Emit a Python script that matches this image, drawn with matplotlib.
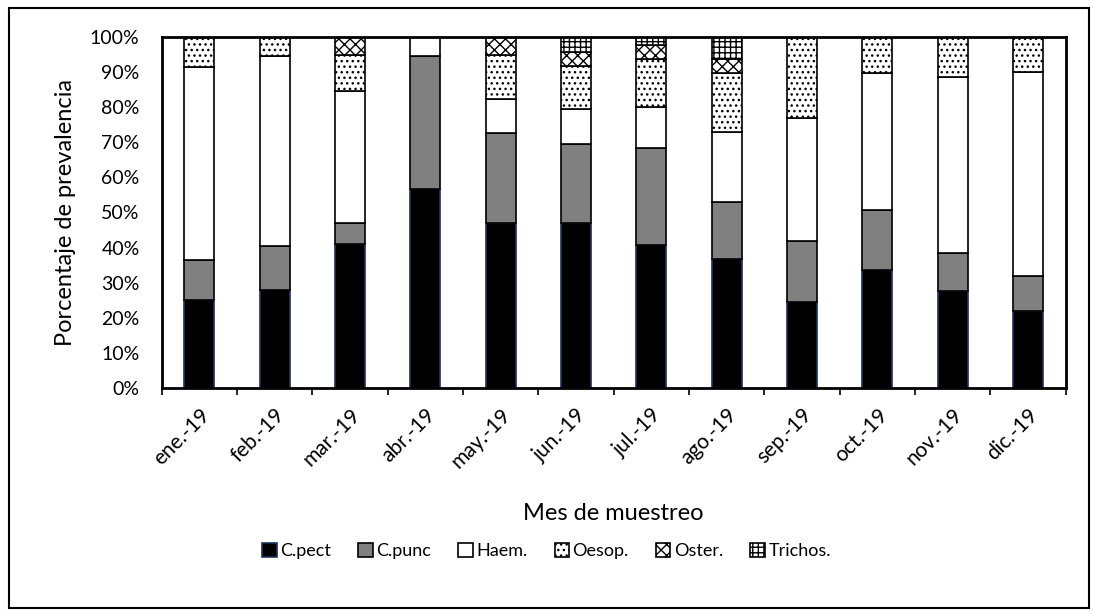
import matplotlib.pyplot as plt
import matplotlib.patches as mpatches
import numpy as np

plt.rcParams['font.family'] = ['Lato', 'DejaVu Sans']
plt.rcParams['hatch.linewidth'] = 1.0

meses = ['ene.-19', 'feb.-19', 'mar.-19', 'abr.-19', 'may.-19', 'jun.-19',
         'jul.-19', 'ago.-19', 'sep.-19', 'oct.-19', 'nov.-19', 'dic.-19']

# porcentajes por grupo
c_pect = [25.0, 27.9, 41.0, 56.7, 46.9, 46.9, 40.7, 36.7, 24.4, 33.6, 27.7, 21.9]
c_punc = [11.6, 12.6, 5.9, 38.0, 25.7, 22.5, 27.6, 16.4, 17.5, 17.1, 10.9, 10.0]
haem = [54.9, 54.1, 37.7, 5.3, 9.7, 10.0, 11.8, 19.9, 35.1, 38.9, 49.9, 58.2]
oesop = [8.5, 5.4, 10.3, 0.0, 12.6, 12.3, 13.5, 16.6, 23.0, 10.4, 11.5, 9.9]
oster = [0.0, 0.0, 5.1, 0.0, 5.1, 3.9, 4.1, 4.0, 0.0, 0.0, 0.0, 0.0]
trichos = [0.0, 0.0, 0.0, 0.0, 0.0, 4.4, 2.3, 6.4, 0.0, 0.0, 0.0, 0.0]

series = [('C.pect', c_pect, 'black', None),
          ('C.punc', c_punc, '#808080', None),
          ('Haem.', haem, 'white', None),
          ('Oesop.', oesop, 'white', '...'),
          ('Oster.', oster, 'white', 'xxx'),
          ('Trichos.', trichos, 'white', '+++')]

fig = plt.figure(figsize=(10.93, 6.15), dpi=100)
ax = fig.add_axes([0.148, 0.369, 0.827, 0.571])

x = np.arange(len(meses))
bottom = np.zeros(len(meses))
handles = []
for name, vals, color, hatch in series:
    vals = np.array(vals) / 100
    bars = ax.bar(x, vals, width=0.4, bottom=bottom, color=color,
                  edgecolor='black', linewidth=1.2, hatch=hatch, label=name)
    if name == 'C.pect':
        for b in bars:
            b.set_edgecolor('#1f2f5f')
    bottom += vals
    handles.append(bars)

ax.set_xlim(-0.5, len(meses) - 0.5)
ax.set_ylim(0, 1.0)
ax.set_yticks(np.arange(0, 1.01, 0.1))
ax.set_yticklabels([f'{int(v)}%' for v in np.arange(0, 101, 10)], fontsize=14)
ax.tick_params(axis='y', length=0, pad=16)

ax.set_xticks(x)
ax.set_xticklabels(meses, rotation=45, ha='right', rotation_mode='anchor', fontsize=15)
ax.set_xticks(np.arange(-0.5, len(meses), 1), minor=True)
ax.tick_params(axis='x', which='major', length=0, pad=12)
ax.tick_params(axis='x', which='minor', length=5, width=1.2, direction='out')

for s in ax.spines.values():
    s.set_linewidth(2)

ax.set_ylabel('Porcentaje de prevalencia', fontsize=17, labelpad=10)
ax.set_xlabel('Mes de muestreo', fontsize=17, labelpad=22)

ax.legend(handles=handles, loc='center', bbox_to_anchor=(0.5, 0.104),
          bbox_transform=fig.transFigure, ncol=6, frameon=False, fontsize=13,
          handlelength=0.8, handleheight=0.8, handletextpad=0.2, columnspacing=1.5)

fig.patches.append(mpatches.Rectangle((0.008, 0.012), 0.988, 0.975, transform=fig.transFigure,
                                      fill=False, edgecolor='black', linewidth=1.5))

fig.savefig('out.png', dpi=100)
